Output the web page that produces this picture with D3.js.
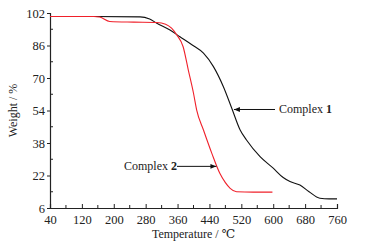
<!DOCTYPE html>
<html>
<head>
<meta charset="utf-8">
<script src="https://cdn.jsdelivr.net/npm/d3@7"></script>
<style>
  body { margin: 0; background: #fff; }
  text { font-family: "Liberation Serif", "DejaVu Serif", serif; fill: #222; }
</style>
</head>
<body>
<div id="chart"></div>
<script>
// TGA curves: temperature (°C) and weight (%)
const temp1 = [40, 150, 266, 290, 308, 341, 366, 395, 425, 450, 475, 496, 517, 533, 567, 600, 625, 642, 667, 690, 717, 740, 760]
const weight1 = [100.3, 100.3, 100.1, 99, 97, 93.6, 90.3, 86.5, 82.2, 75.6, 65.7, 55.1, 44.4, 39.5, 31.3, 25.6, 21, 19, 17.3, 14, 10.8, 10.5, 10.5]

const temp2 = [40, 150, 165, 190, 250, 308, 330, 345, 358, 374, 387, 400, 408, 425, 446, 466, 480, 492, 508, 550, 598]
const weight2 = [100.3, 100.3, 100, 97.8, 97.5, 97.3, 96.5, 94.5, 91.2, 85.4, 73.9, 62.5, 54.2, 44.4, 32.9, 23.1, 18.5, 15.7, 14, 13.8, 13.8]

const xTicks = [40, 120, 200, 280, 360, 440, 520, 600, 680, 760]
const yTicks = [6, 22, 38, 54, 70, 86, 102]

const margin = {top: 13, right: 30, bottom: 42, left: 50}

const svg = d3.select("#chart")
    .append("svg")
    .attr("width", 367)
    .attr("height", 250)
    .append("g")
    .attr("transform", "translate(" + margin.left + "," + margin.top + ")");

const x = d3.scaleLinear().domain([40, 760]).range([0, 287])
const y = d3.scaleLinear().domain([6, 102]).range([195, 0])

// minor ticks
const xMinor = d3.range(80, 760, 80)
const yMinor = d3.range(14, 102, 16)

const xAxis = svg.append("g")
    .attr("transform", "translate(0," + y(6) + ")")
    .call(d3.axisBottom(x).tickValues(xTicks).tickSize(-4).tickPadding(7).tickFormat(d3.format("d")))
xAxis.append("g").selectAll("line").data(xMinor).enter().append("line")
    .attr("x1", d => x(d)).attr("x2", d => x(d))
    .attr("y1", 0).attr("y2", -3)
    .attr("stroke", "#222")

const yAxis = svg.append("g")
    .call(d3.axisLeft(y).tickValues(yTicks).tickSize(3).tickPadding(2).tickFormat(d3.format("d")))
yAxis.append("g").selectAll("line").data(yMinor).enter().append("line")
    .attr("x1", 0).attr("x2", 3)
    .attr("y1", d => y(d)).attr("y2", d => y(d))
    .attr("stroke", "#222")

svg.selectAll(".domain").attr("stroke", "#222").attr("stroke-width", 1.2)
svg.selectAll(".tick line").attr("stroke", "#222")
svg.selectAll(".tick text").style("font-size", "12.5px").attr("fill", "#222")

// curves
const line = d3.line()
    .x(d => x(d[0]))
    .y(d => y(d[1]))
    .curve(d3.curveMonotoneX)

svg.append("path")
    .datum(d3.zip(temp1, weight1))
    .attr("d", line)
    .attr("fill", "none")
    .attr("stroke", "#111")
    .attr("stroke-width", 1.1)

svg.append("path")
    .datum(d3.zip(temp2, weight2))
    .attr("d", line)
    .attr("fill", "none")
    .attr("stroke", "#f0202a")
    .attr("stroke-width", 1.1)

// arrows + labels
svg.append("defs").append("marker")
    .attr("id", "arr")
    .attr("viewBox", "0 0 10 10")
    .attr("refX", 10).attr("refY", 5)
    .attr("markerWidth", 6).attr("markerHeight", 6)
    .attr("orient", "auto")
    .append("path")
    .attr("d", "M0,1L10,5L0,9z")
    .attr("fill", "#111")

function annotate(t, w, fromX, label, num, textX, textY) {
    svg.append("line")
        .attr("x1", fromX).attr("y1", y(w))
        .attr("x2", x(t) + 1).attr("y2", y(w))
        .attr("stroke", "#111")
        .attr("stroke-width", 1)
        .attr("marker-end", "url(#arr)")
    const tx = svg.append("text")
        .attr("x", textX).attr("y", textY)
        .style("font-size", "12px")
    tx.append("tspan").text(label + " ")
    tx.append("tspan").style("font-weight", "bold").text(num)
}

annotate(499, 54.5, 225, "Complex", "1", 229, y(54.5) + 4)
annotate(455, 26.5, 127, "Complex", "2", 74, y(26.5) + 4)

// axis titles
svg.append("text")
    .attr("x", x(400))
    .attr("y", 225)
    .attr("text-anchor", "middle")
    .style("font-size", "12px")
    .text("Temperature / ℃")

svg.append("text")
    .attr("transform", "translate(-33," + (195 / 2) + ") rotate(-90)")
    .attr("text-anchor", "middle")
    .style("font-size", "12px")
    .text("Weight / %")
</script>
</body>
</html>
